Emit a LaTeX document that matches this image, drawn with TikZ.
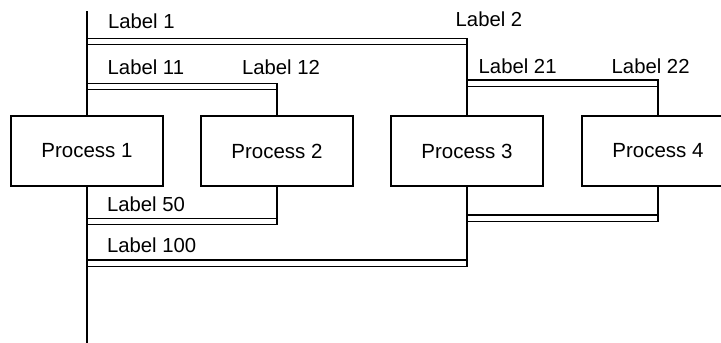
\documentclass[tikz,border=0pt]{standalone}
\usepackage{fontspec}
\setmainfont{Liberation Sans}
\begin{document}
\begin{tikzpicture}[x=1pt,y=-1pt,
  wire/.style={line width=1.3pt, line cap=rect},
  box/.style={draw, line width=1.3pt, minimum width=152pt, minimum height=70pt, inner sep=0pt, font=\fontsize{20.5}{24}\selectfont},
  lbl/.style={anchor=base west, inner sep=0pt, font=\fontsize{20.3}{24}\selectfont}]
\useasboundingbox (0,0) rectangle (721,343);
% process boxes
\node[box] (p1) at (87,151) {Process 1};
\node[box] (p2) at (277,151) {Process 2};
\node[box] (p3) at (467,151) {Process 3};
\node[box] (p4) at (658,151) {Process 4};
% main line ends
\coordinate (top) at (87,12);
\coordinate (bot) at (87,345);
% bar coordinates
\coordinate (b1l) at (87,38.3);   \coordinate (b1r) at (467,38.3);
\coordinate (b1l2) at (87,44.5);  \coordinate (b1r2) at (467,44.5);
\coordinate (b11l) at (87,83.5);  \coordinate (b11r) at (277,83.5);
\coordinate (b11l2) at (87,89.5); \coordinate (b11r2) at (277,89.5);
\coordinate (b21l) at (467,80);   \coordinate (b21r) at (658,80);
\coordinate (b21l2) at (467,86.7);\coordinate (b21r2) at (658,86.7);
\coordinate (b34l) at (467,215);  \coordinate (b34r) at (658,215);
\coordinate (b34l2) at (467,221.7);\coordinate (b34r2) at (658,221.7);
\coordinate (b50l) at (87,218.3); \coordinate (b50r) at (277,218.3);
\coordinate (b50l2) at (87,224.5);\coordinate (b50r2) at (277,224.5);
\coordinate (b100l) at (87,260);  \coordinate (b100r) at (467,260);
\coordinate (b100l2) at (87,266.7);\coordinate (b100r2) at (467,266.7);
% vertical lines
\draw[wire] (top) -- (p1.north);
\draw[wire] (p1.south) -- (bot);
\draw[wire] (b11r) -- (p2.north);
\draw[wire] (p2.south) -- (b50r2);
\draw[wire] (b1r) -- (p3.north);
\draw[wire] (p3.south) -- (b100r2);
\draw[wire] (b21r) -- (p4.north);
\draw[wire] (p4.south) -- (b34r2);
% double bars
\draw[wire] (b1l) -- (b1r) -- (b1r2) -- (b1l2);
\draw[wire] (b11l) -- (b11r) -- (b11r2) -- (b11l2);
\draw[wire] (b21l) -- (b21r) -- (b21r2) -- (b21l2);
\draw[wire] (b34l) -- (b34r) -- (b34r2) -- (b34l2);
\draw[wire] (b50l) -- (b50r) -- (b50r2) -- (b50l2);
\draw[wire] (b100l) -- (b100r) -- (b100r2) -- (b100l2);
% labels
\node[lbl] (l1) at (107.8,28.3) {Label 1};
\node[lbl] (l2) at (455.5,26.7) {Label 2};
\node[lbl] (l11) at (107.5,74) {Label 11};
\node[lbl] (l12) at (241.8,74) {Label 12};
\node[lbl] (l21) at (478.5,73) {Label 21};
\node[lbl] (l22) at (611.5,73) {Label 22};
\node[lbl] (l50) at (106.8,211.7) {Label 50};
\node[lbl] (l100) at (106.8,252.7) {Label 100};
\end{tikzpicture}
\end{document}
